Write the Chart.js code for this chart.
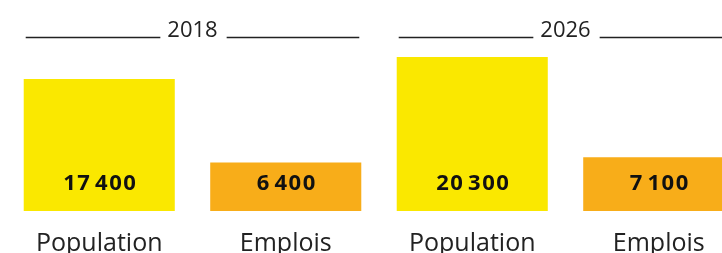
<!DOCTYPE html>
<html lang="fr">
<head>
    <meta charset="UTF-8">
    <title>Population et emplois</title>
    <script src="https://cdn.jsdelivr.net/npm/chart.js"></script>
    <style>
        html, body { margin: 0; padding: 0; background: #fff; overflow: hidden; }
        .wrap { position: relative; width: 760px; height: 293px; }
    </style>
</head>
<body>
    <div class="wrap">
        <canvas id="chart"></canvas>
    </div>

    <script>
        // data
        const years = ['2018', '2026'];
        const categories = ['Population', 'Emplois', 'Population', 'Emplois'];
        const values = [17400, 6400, 20300, 7100];
        const valueLabels = ['17\u200a400', '6\u200a400', '20\u200a300', '7\u200a100'];
        const barColors = ['#fae800', '#f8ad19', '#fae800', '#f8ad19'];

        const FONT = '"Open Sans", sans-serif';

        // year headers with a rule each side, over each pair of bars
        const groupHeaders = {
            id: 'groupHeaders',
            afterDatasetsDraw(chart) {
                const ctx = chart.ctx;
                const bars = chart.getDatasetMeta(0).data;
                ctx.save();
                ctx.font = '22px ' + FONT;
                ctx.fillStyle = '#222';
                ctx.strokeStyle = '#222';
                ctx.lineWidth = 1.3;
                ctx.textAlign = 'center';
                ctx.textBaseline = 'alphabetic';
                years.forEach((year, g) => {
                    const a = bars[g * 2], b = bars[g * 2 + 1];
                    const left = a.x - a.width / 2;
                    const right = b.x + b.width / 2;
                    const mid = (left + right) / 2;
                    const half = ctx.measureText(year).width / 2;
                    const y = 37;
                    ctx.fillText(year, mid, y);
                    ctx.beginPath();
                    ctx.moveTo(left + 2, y + 0.5);
                    ctx.lineTo(mid - half - 7, y + 0.5);
                    ctx.moveTo(mid + half + 9, y + 0.5);
                    ctx.lineTo(right - 2, y + 0.5);
                    ctx.stroke();
                });

                // values inside the bars
                ctx.font = 'bold 22px ' + FONT;
                ctx.letterSpacing = '1.5px';
                ctx.fillStyle = '#111';
                ctx.textBaseline = 'middle';
                bars.forEach((bar, i) => {
                    ctx.fillText(valueLabels[i], bar.x + 1, bar.base - 27);
                });
                ctx.restore();
            }
        };

        new Chart(document.getElementById('chart'), {
            type: 'bar',
            data: {
                labels: categories,
                datasets: [{
                    data: values,
                    backgroundColor: barColors,
                    borderWidth: 0,
                    barPercentage: 0.81,
                    categoryPercentage: 1
                }]
            },
            options: {
                responsive: true,
                maintainAspectRatio: false,
                animation: false,
                layout: { padding: { top: 57, left: 6, right: 8, bottom: 16 } },
                plugins: {
                    legend: { display: false },
                    tooltip: { enabled: false }
                },
                scales: {
                    x: {
                        grid: { display: false, drawTicks: false },
                        border: { display: false },
                        ticks: {
                            color: '#222',
                            padding: 18,
                            font: { family: FONT, size: 25 }
                        }
                    },
                    y: {
                        display: false,
                        min: 0,
                        max: 20300
                    }
                }
            },
            plugins: [groupHeaders]
        });
    </script>
</body>
</html>
